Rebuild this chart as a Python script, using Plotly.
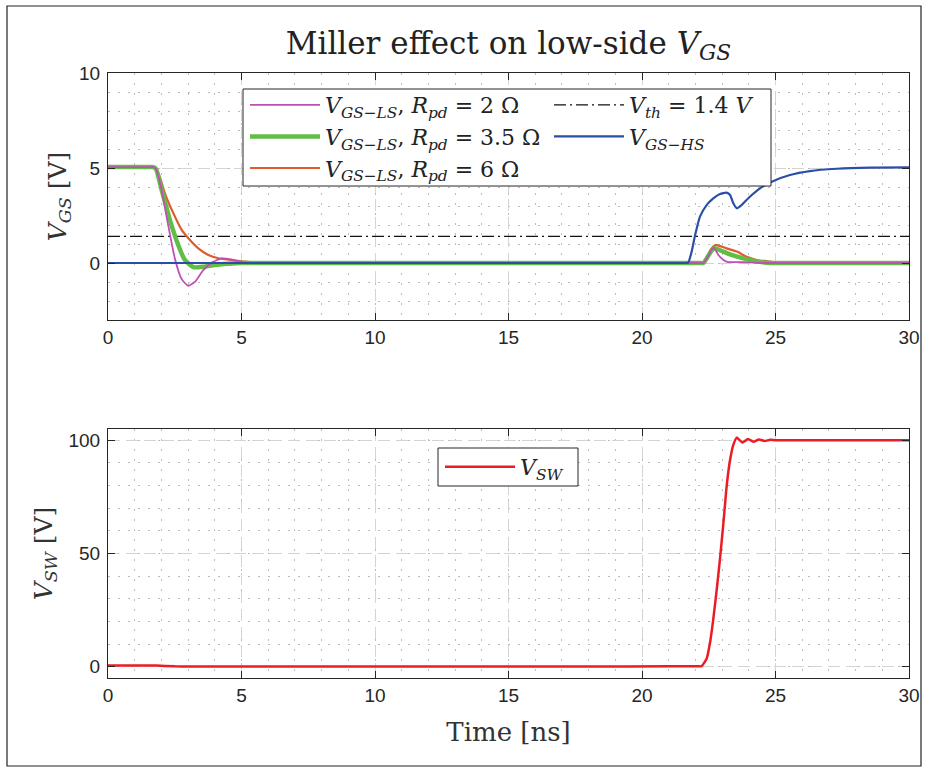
import plotly.graph_objects as go

# ---------------- data ----------------
t_pd2 = [0, 0.8, 1.5, 1.7, 1.8, 2.0, 2.26, 2.51, 2.76, 3.0, 3.26, 3.57, 3.88, 4.26, 4.63, 5.0, 5.5,
         7, 10, 14, 18, 21.0, 21.8, 22.15, 22.3, 22.45, 22.6, 22.7, 22.86, 23.05, 23.23, 23.6, 24.0,
         24.5, 25.0, 27, 30]
v_pd2 = [5.05, 5.05, 5.05, 5.05, 4.95, 3.9, 1.95, 0.2, -0.85, -1.2, -0.98, -0.37, 0.02, 0.24, 0.18, 0.05, 0.0,
         0.0, 0.0, 0.0, 0.0, 0.0, 0.0, 0.0, 0.0, 0.3, 0.7, 0.8, 0.42, 0.16, 0.05, 0.05, 0.03,
         0.0, 0.0, 0.0, 0.0]

t_pd35 = [0, 0.8, 1.5, 1.7, 1.8, 2.0, 2.32, 2.63, 2.88, 3.2, 3.57, 4.0, 4.5, 5.0, 5.5,
          7, 10, 14, 18, 21.0, 21.8, 22.15, 22.3, 22.45, 22.6, 22.72, 23.05, 23.3, 23.6, 24.04, 24.4,
          24.8, 25.3, 27, 30]
v_pd35 = [5.05, 5.05, 5.05, 5.05, 4.95, 3.9, 2.26, 0.95, 0.16, -0.22, -0.2, -0.1, -0.04, 0.0, 0.0,
          0.0, 0.0, 0.0, 0.0, 0.0, 0.0, 0.0, 0.0, 0.3, 0.65, 0.78, 0.6, 0.45, 0.32, 0.16, 0.06,
          0.0, 0.0, 0.0, 0.0]

t_pd6 = [0, 0.8, 1.5, 1.7, 1.89, 2.13, 2.45, 2.76, 3.01, 3.38, 3.76, 4.13, 4.63, 5.13, 5.6, 6.2,
         8, 11, 14, 18, 21.0, 21.8, 22.15, 22.3, 22.45, 22.6, 22.75, 23.17, 23.55, 23.92, 24.3,
         24.79, 25.2, 25.7, 27, 30]
v_pd6 = [5.05, 5.05, 5.05, 5.05, 4.72, 3.67, 2.61, 1.74, 1.3, 0.77, 0.42, 0.25, 0.16, 0.07, 0.02, 0.0,
         0.0, 0.0, 0.0, 0.0, 0.0, 0.0, 0.0, 0.0, 0.3, 0.75, 0.95, 0.77, 0.6, 0.33, 0.16,
         0.07, 0.0, 0.0, 0.0, 0.0]

t_hs = [0, 4, 8, 12, 16, 19, 21.0, 21.45, 21.6, 21.73, 21.86, 21.99, 22.17, 22.42, 22.67, 22.92,
        23.17, 23.3, 23.42, 23.55, 23.73, 24.04, 24.42, 24.86, 25.54, 26.29, 27.29, 28.54, 30]
v_hs = [0.0, 0.0, 0.0, 0.0, 0.0, 0.0, 0.0, 0.0, 0.0, 0.02, 0.6, 1.47, 2.44, 3.05, 3.4, 3.63,
        3.7, 3.58, 3.14, 2.88, 3.05, 3.49, 3.93, 4.28, 4.63, 4.84, 4.96, 5.02, 5.03]

t_th = [0, 30]
v_th = [1.4, 1.4]

t_sw = [0, 0.8, 1.5, 1.8, 2.5, 3.0, 3.6, 6, 9, 12, 15, 18, 21, 21.8, 22.1, 22.23, 22.42, 22.55,
        22.67, 22.8, 22.92, 23.05, 23.17, 23.3, 23.42, 23.55, 23.76, 23.97, 24.17, 24.38, 24.59,
        24.8, 25.1, 25.6, 27, 30]
v_sw = [0.5, 0.5, 0.5, 0.5, 0.15, 0.1, 0.1, 0.1, 0.1, 0.1, 0.1, 0.1, 0.15, 0.2, 0.2, 0.2, 3.5, 10.8,
        21.0, 34.3, 47.5, 63.6, 79.7, 91.4, 98.0, 101.2, 99.0, 100.6, 99.4, 100.4, 99.7,
        100.2, 100.0, 100.0, 100.0, 100.0]

x_ticks = [0, 5, 10, 15, 20, 25, 30]
y1_ticks = [0, 5, 10]
y2_ticks = [0, 50, 100]

# ---------------- styling ----------------
SERIF = "DejaVu Serif"
SANS = "Liberation Sans"
AX = "#262626"
GRID = "#d4d4d4"
MINOR = "#bcbcbc"
MAJOR_DASH = "12px,6px"
MINOR_DASH = "2px,8px"

names = {
    "pd2": "<i>V</i><sub><i>GS−LS</i></sub>, <i>R</i><sub><i>pd</i></sub> = 2 Ω",
    "pd35": "<i>V</i><sub><i>GS−LS</i></sub>, <i>R</i><sub><i>pd</i></sub> = 3.5 Ω",
    "pd6": "<i>V</i><sub><i>GS−LS</i></sub>, <i>R</i><sub><i>pd</i></sub> = 6 Ω",
    "th": "<i>V</i><sub><i>th</i></sub> = 1.4 <i>V</i>",
    "hs": "<i>V</i><sub><i>GS−HS</i></sub>",
    "sw": "<i>V</i><sub><i>SW</i></sub>",
}

SPL = dict(shape="spline", smoothing=0.5)

fig = go.Figure()

fig.add_trace(go.Scatter(x=t_th, y=v_th, mode="lines", name=names["th"], legendrank=2,
                         line=dict(color="#111111", width=1.3, dash="12px,4px,2px,4px"),
                         xaxis="x", yaxis="y"))
fig.add_trace(go.Scatter(x=t_pd6, y=v_pd6, mode="lines", name=names["pd6"], legendrank=5,
                         line=dict(color="#E05A2B", width=2.2, **SPL), xaxis="x", yaxis="y"))
fig.add_trace(go.Scatter(x=t_pd35, y=v_pd35, mode="lines", name=names["pd35"], legendrank=3,
                         line=dict(color="#62BD46", width=4.5, **SPL), xaxis="x", yaxis="y"))
fig.add_trace(go.Scatter(x=t_pd2, y=v_pd2, mode="lines", name=names["pd2"], legendrank=1,
                         line=dict(color="#C04FB5", width=1.8, **SPL), xaxis="x", yaxis="y"))
fig.add_trace(go.Scatter(x=t_hs, y=v_hs, mode="lines", name=names["hs"], legendrank=4,
                         line=dict(color="#2B4EA6", width=2.2, **SPL), xaxis="x", yaxis="y"))
fig.add_trace(go.Scatter(x=t_sw, y=v_sw, mode="lines", name=names["sw"], legend="legend2",
                         line=dict(color="#EC1C24", width=2.5, **SPL), xaxis="x2", yaxis="y2"))

def xax(anchor, title=None):
    d = dict(range=[0, 30], tickvals=x_ticks, ticks="inside", ticklen=7, tickcolor=AX,
             showline=True, linecolor=AX, linewidth=1, mirror="ticks",
             showgrid=True, gridcolor=GRID, griddash=MAJOR_DASH, gridwidth=1,
             zeroline=False, anchor=anchor,
             tickfont=dict(family=SANS, size=19, color=AX),
             minor=dict(dtick=1, tick0=0, showgrid=True, gridcolor=MINOR, griddash=MINOR_DASH, gridwidth=1))
    if title:
        d["title"] = dict(text=title, font=dict(family=SERIF, size=26, color="#333333"), standoff=18)
    return d

def yax(rng, ticks, mdt, domain, anchor, title, standoff):
    return dict(range=rng, tickvals=ticks, ticks="inside", ticklen=7, tickcolor=AX,
                showline=True, linecolor=AX, linewidth=1, mirror="ticks",
                showgrid=True, gridcolor=GRID, griddash=MAJOR_DASH, gridwidth=1,
                zeroline=False, domain=domain, anchor=anchor, ticklabelstandoff=3,
                tickfont=dict(family=SANS, size=19, color=AX),
                minor=dict(dtick=mdt, tick0=0, showgrid=True, gridcolor=MINOR, griddash=MINOR_DASH, gridwidth=1),
                title=dict(text=title, font=dict(family=SERIF, size=25, color="#333333"), standoff=standoff))

L, R, T, B = 108, 20, 73, 90
W, H = 929, 768
PW, PH = W - L - R, H - T - B

def px2x(px):
    return (px - L) / PW

def py2y(py):
    return (H - B - py) / PH

def box(x0, y0, x1, y1, fill="white", lw=1):
    return dict(type="rect", xref="paper", yref="paper", layer="above",
                x0=px2x(x0), x1=px2x(x1), y0=py2y(y1), y1=py2y(y0),
                line=dict(color=AX, width=lw), fillcolor=fill)

fig.update_layout(
    width=W, height=H,
    margin=dict(l=L, r=R, t=T, b=B, autoexpand=False),
    paper_bgcolor="white", plot_bgcolor="white",
    title=dict(text="Miller effect on low-side <i>V</i><sub><i>GS</i></sub>",
               font=dict(family=SERIF, size=31, color="#222222"),
               x=0.5, xref="paper", xanchor="center", y=1 - 43 / H, yref="container", yanchor="middle"),
    xaxis=xax("y"),
    yaxis=yax([-3, 10], y1_ticks, 1, [py2y(320), 1], "x",
              "<i>V</i><sub><i>GS</i></sub> [V]", 5),
    xaxis2=xax("y2", "Time [ns]"),
    yaxis2=yax([-5, 105], y2_ticks, 10, [0, py2y(429)], "x2",
               "<i>V</i><sub><i>SW</i></sub> [V]", 8),
    legend=dict(orientation="h", x=px2x(245), y=py2y(84), xanchor="left", yanchor="top",
                entrywidth=219, entrywidthmode="pixels", itemwidth=70,
                bgcolor="rgba(0,0,0,0)", borderwidth=0,
                font=dict(family=SERIF, size=22, color="#222222"), traceorder="normal"),
    legend2=dict(x=px2x(440), y=py2y(446), xanchor="left", yanchor="top", itemwidth=70,
                 bgcolor="rgba(0,0,0,0)", borderwidth=0,
                 font=dict(family=SERIF, size=22, color="#222222")),
    shapes=[
        box(243, 89, 771, 186),
        box(438, 448, 578, 486),
        dict(type="rect", xref="paper", yref="paper",
             x0=px2x(7), x1=px2x(921), y0=py2y(766), y1=py2y(6),
             line=dict(color="#222222", width=1.2), fillcolor="rgba(0,0,0,0)"),
    ],
)

fig.write_html("out.html", config={"displayModeBar": False},
               post_script="document.body.style.margin='0px';")
